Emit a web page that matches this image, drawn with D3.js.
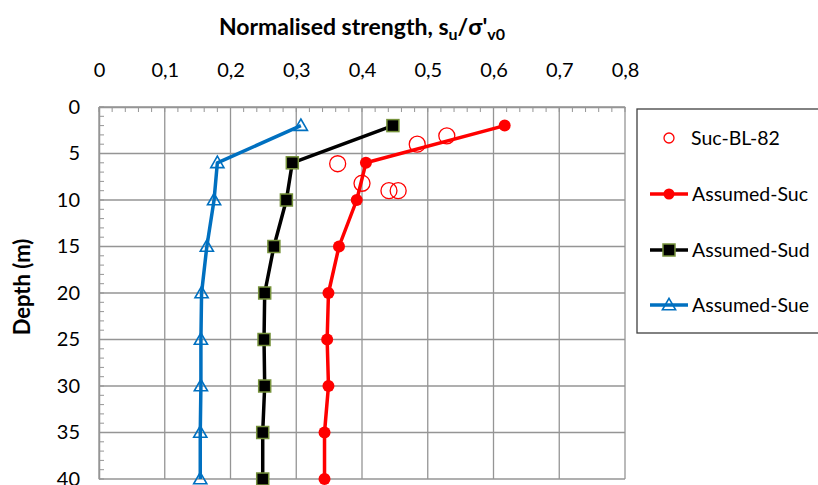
<!DOCTYPE html>
<html><head><meta charset="utf-8">
<script src="https://cdn.jsdelivr.net/npm/d3@7"></script>
<style>body{margin:0;background:#fff;} text{font-family:Lato,"Open Sans",sans-serif;}</style>
</head><body>
<svg id="c" width="818" height="485"></svg>
<script>
const depths = [2, 6, 10, 15, 20, 25, 30, 35, 40];
const assumedSuc = [0.617, 0.406, 0.392, 0.365, 0.349, 0.347, 0.349, 0.343, 0.343];
const assumedSud = [0.447, 0.294, 0.285, 0.266, 0.252, 0.251, 0.252, 0.249, 0.249];
const assumedSue = [0.307, 0.180, 0.175, 0.164, 0.156, 0.155, 0.155, 0.154, 0.154];
const blDepths = [3.1, 4.0, 6.1, 8.2, 9.0, 9.0];
const blValues = [0.529, 0.484, 0.363, 0.400, 0.441, 0.455];
const xTicks = [0, 0.1, 0.2, 0.3, 0.4, 0.5, 0.6, 0.7, 0.8];
const yTicks = [0, 5, 10, 15, 20, 25, 30, 35, 40];
const seriesNames = ["Suc-BL-82", "Assumed-Suc", "Assumed-Sud", "Assumed-Sue"];

const svg = d3.select("#c");
const x = d3.scaleLinear().domain([0, 0.8]).range([99, 625]);
const y = d3.scaleLinear().domain([0, 40]).range([107, 479]);
const grid = "#959595";

// gridlines
svg.append("g").selectAll("line").data(xTicks).join("line")
  .attr("x1", d => x(d)).attr("x2", d => x(d)).attr("y1", y(0)).attr("y2", y(40))
  .attr("stroke", grid).attr("stroke-width", 1.3);
svg.append("g").selectAll("line").data(yTicks).join("line")
  .attr("x1", x(0)).attr("x2", x(0.8)).attr("y1", d => y(d)).attr("y2", d => y(d))
  .attr("stroke", grid).attr("stroke-width", 1.3);

// minor ticks
const xMinor = d3.range(0, 0.8001, 0.02);
svg.append("g").selectAll("line").data(xMinor).join("line")
  .attr("x1", d => x(d)).attr("x2", d => x(d)).attr("y1", y(0)).attr("y2", y(0) + 5)
  .attr("stroke", grid).attr("stroke-width", 1);
const yMinor = d3.range(0, 41, 1);
svg.append("g").selectAll("line").data(yMinor).join("line")
  .attr("x1", x(0)).attr("x2", x(0) + 5).attr("y1", d => y(d)).attr("y2", d => y(d))
  .attr("stroke", grid).attr("stroke-width", 1);

// axes
const xAxis = d3.axisTop(x).tickValues(xTicks).tickSize(0).tickPadding(0)
  .tickFormat(d => d === 0 ? "0" : d3.format(".1f")(d).replace(".", ","));
const gx = svg.append("g").attr("transform", `translate(0,${y(0)})`).call(xAxis);
gx.select(".domain").attr("stroke", grid).attr("stroke-width", 1.5);
gx.selectAll("text").attr("y", -30).attr("font-size", 20).attr("fill", "#000")
  .attr("font-family", "Lato");

const yAxis = d3.axisLeft(y).tickValues(yTicks).tickSize(0).tickPadding(0);
const gy = svg.append("g").attr("transform", `translate(${x(0)},0)`).call(yAxis);
gy.select(".domain").attr("stroke", grid).attr("stroke-width", 1.5);
gy.selectAll("text").attr("x", -19).attr("font-size", 20).attr("fill", "#000")
  .attr("font-family", "Lato");

// titles
const t = svg.append("text").attr("x", (x(0) + x(0.8)) / 2).attr("y", 35)
  .attr("text-anchor", "middle").attr("font-size", 23).attr("font-weight", "bold");
t.append("tspan").text("Normalised strength, s");
t.append("tspan").attr("font-size", 16).attr("dy", 5).text("u");
t.append("tspan").attr("dy", -5).text("/σ'");
t.append("tspan").attr("font-size", 16).attr("dy", 5).text("v0");

svg.append("text").attr("transform", `translate(30,287) rotate(-90)`)
  .attr("text-anchor", "middle").attr("font-size", 22).attr("font-weight", "bold").text("Depth (m)");

const line = d3.line().x(d => x(d[0])).y(d => y(d[1]));
const red = "#ff0000", black = "#000000", blue = "#0070c0", olive = "#77933c";

function series(vals, color, width) {
  const pts = vals.map((v, i) => [v, depths[i]]);
  svg.append("path").datum(pts).attr("d", line).attr("fill", "none")
    .attr("stroke", color).attr("stroke-width", width).attr("stroke-linejoin", "round");
  return pts;
}
const pe = series(assumedSue, blue, 3.5);
const pd = series(assumedSud, black, 3.5);
const pc = series(assumedSuc, red, 3.5);

const tri = d3.symbol().type(d3.symbolTriangle).size(75);
svg.append("g").selectAll("path").data(pe).join("path")
  .attr("d", tri).attr("transform", d => `translate(${x(d[0])},${y(d[1]) + 1})`)
  .attr("fill", "none").attr("stroke", blue).attr("stroke-width", 1.6);
svg.append("g").selectAll("rect").data(pd).join("rect")
  .attr("x", d => x(d[0]) - 6).attr("y", d => y(d[1]) - 6).attr("width", 12).attr("height", 12)
  .attr("fill", black).attr("stroke", olive).attr("stroke-width", 1.5);
svg.append("g").selectAll("circle").data(pc).join("circle")
  .attr("cx", d => x(d[0])).attr("cy", d => y(d[1])).attr("r", 6).attr("fill", red);
svg.append("g").selectAll("circle").data(blValues.map((v, i) => [v, blDepths[i]])).join("circle")
  .attr("cx", d => x(d[0])).attr("cy", d => y(d[1])).attr("r", 8)
  .attr("fill", "none").attr("stroke", red).attr("stroke-width", 1.3);

// legend
svg.append("rect").attr("x", 637).attr("y", 109).attr("width", 185).attr("height", 224)
  .attr("fill", "#fff").attr("stroke", "#404040").attr("stroke-width", 1.3);
const ly = [138, 194, 250, 305];
const lg = svg.append("g");
seriesNames.forEach((n, i) => {
  lg.append("text").attr("x", i === 0 ? 691 : 692).attr("y", ly[i]).attr("dy", "0.35em")
    .attr("font-size", 19.5).text(n);
});
lg.append("circle").attr("cx", 669).attr("cy", ly[0]).attr("r", 5)
  .attr("fill", "none").attr("stroke", red).attr("stroke-width", 1.3);
[[red, 1], [black, 2], [blue, 3]].forEach(([c, i]) => {
  lg.append("line").attr("x1", 650).attr("x2", 688).attr("y1", ly[i]).attr("y2", ly[i])
    .attr("stroke", c).attr("stroke-width", 3.5);
});
lg.append("circle").attr("cx", 669).attr("cy", ly[1]).attr("r", 5.5).attr("fill", red);
lg.append("rect").attr("x", 663).attr("y", ly[2] - 6).attr("width", 12).attr("height", 12)
  .attr("fill", black).attr("stroke", olive).attr("stroke-width", 1.5);
lg.append("path").attr("d", tri).attr("transform", `translate(669,${ly[3] + 1})`)
  .attr("fill", "none").attr("stroke", blue).attr("stroke-width", 1.6);
</script>
</body></html>
